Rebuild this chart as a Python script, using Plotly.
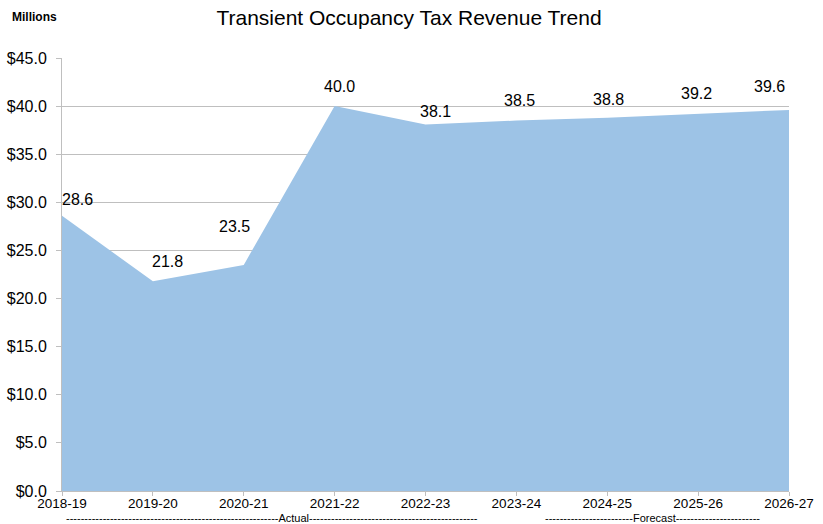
import plotly.graph_objects as go

categories = ["2018-19", "2019-20", "2020-21", "2021-22", "2022-23", "2023-24", "2024-25", "2025-26", "2026-27"]
revenue = [28.6, 21.8, 23.5, 40.0, 38.1, 38.5, 38.8, 39.2, 39.6]
y_ticks = [0, 5, 10, 15, 20, 25, 30, 35, 40, 45]

# label placement (pixel offsets from each point), styling only
label_dx = [15, 15, -9, 5, 10, 3, 1, -2, -20]
label_dy = [16, 20, 38, 20, 13, 20, 18, 20, 23]

FONT = "Liberation Sans, Arial, sans-serif"

fig = go.Figure()
fig.add_trace(go.Scatter(
    x=categories, y=revenue, mode="lines", fill="tozeroy",
    line=dict(width=0, color="#9DC3E6"), fillcolor="#9DC3E6",
    hoverinfo="x+y", showlegend=False,
))

for c, v, dx, dy in zip(categories, revenue, label_dx, label_dy):
    fig.add_annotation(x=c, y=v, text=f"{v:.1f}", showarrow=False, xanchor="center", yanchor="middle",
                       xshift=dx, yshift=dy, font=dict(size=16, color="#000000", family=FONT))

fig.add_annotation(xref="paper", yref="paper", x=0.289, y=-0.0635, xanchor="center", yanchor="middle",
                   text="-" * 58 + "Actual" + "-" * 46, showarrow=False, borderpad=0,
                   font=dict(size=11, color="#000000", family=FONT))
fig.add_annotation(xref="paper", yref="paper", x=0.812, y=-0.0635, xanchor="center", yanchor="middle",
                   text="-" * 24 + "Forecast" + "-" * 23, showarrow=False, borderpad=0,
                   font=dict(size=11, color="#000000", family=FONT))
fig.add_annotation(xref="paper", yref="paper", x=-0.0715, y=1.095, xanchor="left", yanchor="middle",
                   text="<b>Millions</b>", showarrow=False,
                   font=dict(size=12, color="#000000", family=FONT))

fig.update_layout(
    width=823, height=524, autosize=False,
    margin=dict(l=62, r=34, t=58, b=33, pad=0),
    paper_bgcolor="white", plot_bgcolor="white",
    title=dict(text="Transient Occupancy Tax Revenue Trend", x=0.497, xanchor="center",
               y=0.967, yanchor="middle", font=dict(size=21, color="#000000", family=FONT)),
    font=dict(family=FONT, color="#000000"),
    xaxis=dict(type="category", range=[0, len(categories) - 1], showgrid=False, automargin=False,
               showline=True, linecolor="#BFBFBF", linewidth=1,
               ticks="outside", ticklen=4, tickcolor="#BFBFBF", ticklabelstandoff=-4,
               tickfont=dict(size=13.5, color="#000000"), tickangle=0),
    yaxis=dict(range=[0, 45], tickvals=y_ticks, ticktext=[f"${t:.1f}" for t in y_ticks], automargin=False,
               showgrid=True, gridcolor="#BFBFBF", gridwidth=1,
               showline=True, linecolor="#BFBFBF", linewidth=1,
               ticks="outside", ticklen=5, tickcolor="#BFBFBF", ticklabelstandoff=6,
               tickfont=dict(size=16, color="#000000"), zeroline=False),
)

fig.write_html("out.html", config={"displayModeBar": False},
               post_script="document.body.style.margin='0';document.body.style.overflow='hidden';")
